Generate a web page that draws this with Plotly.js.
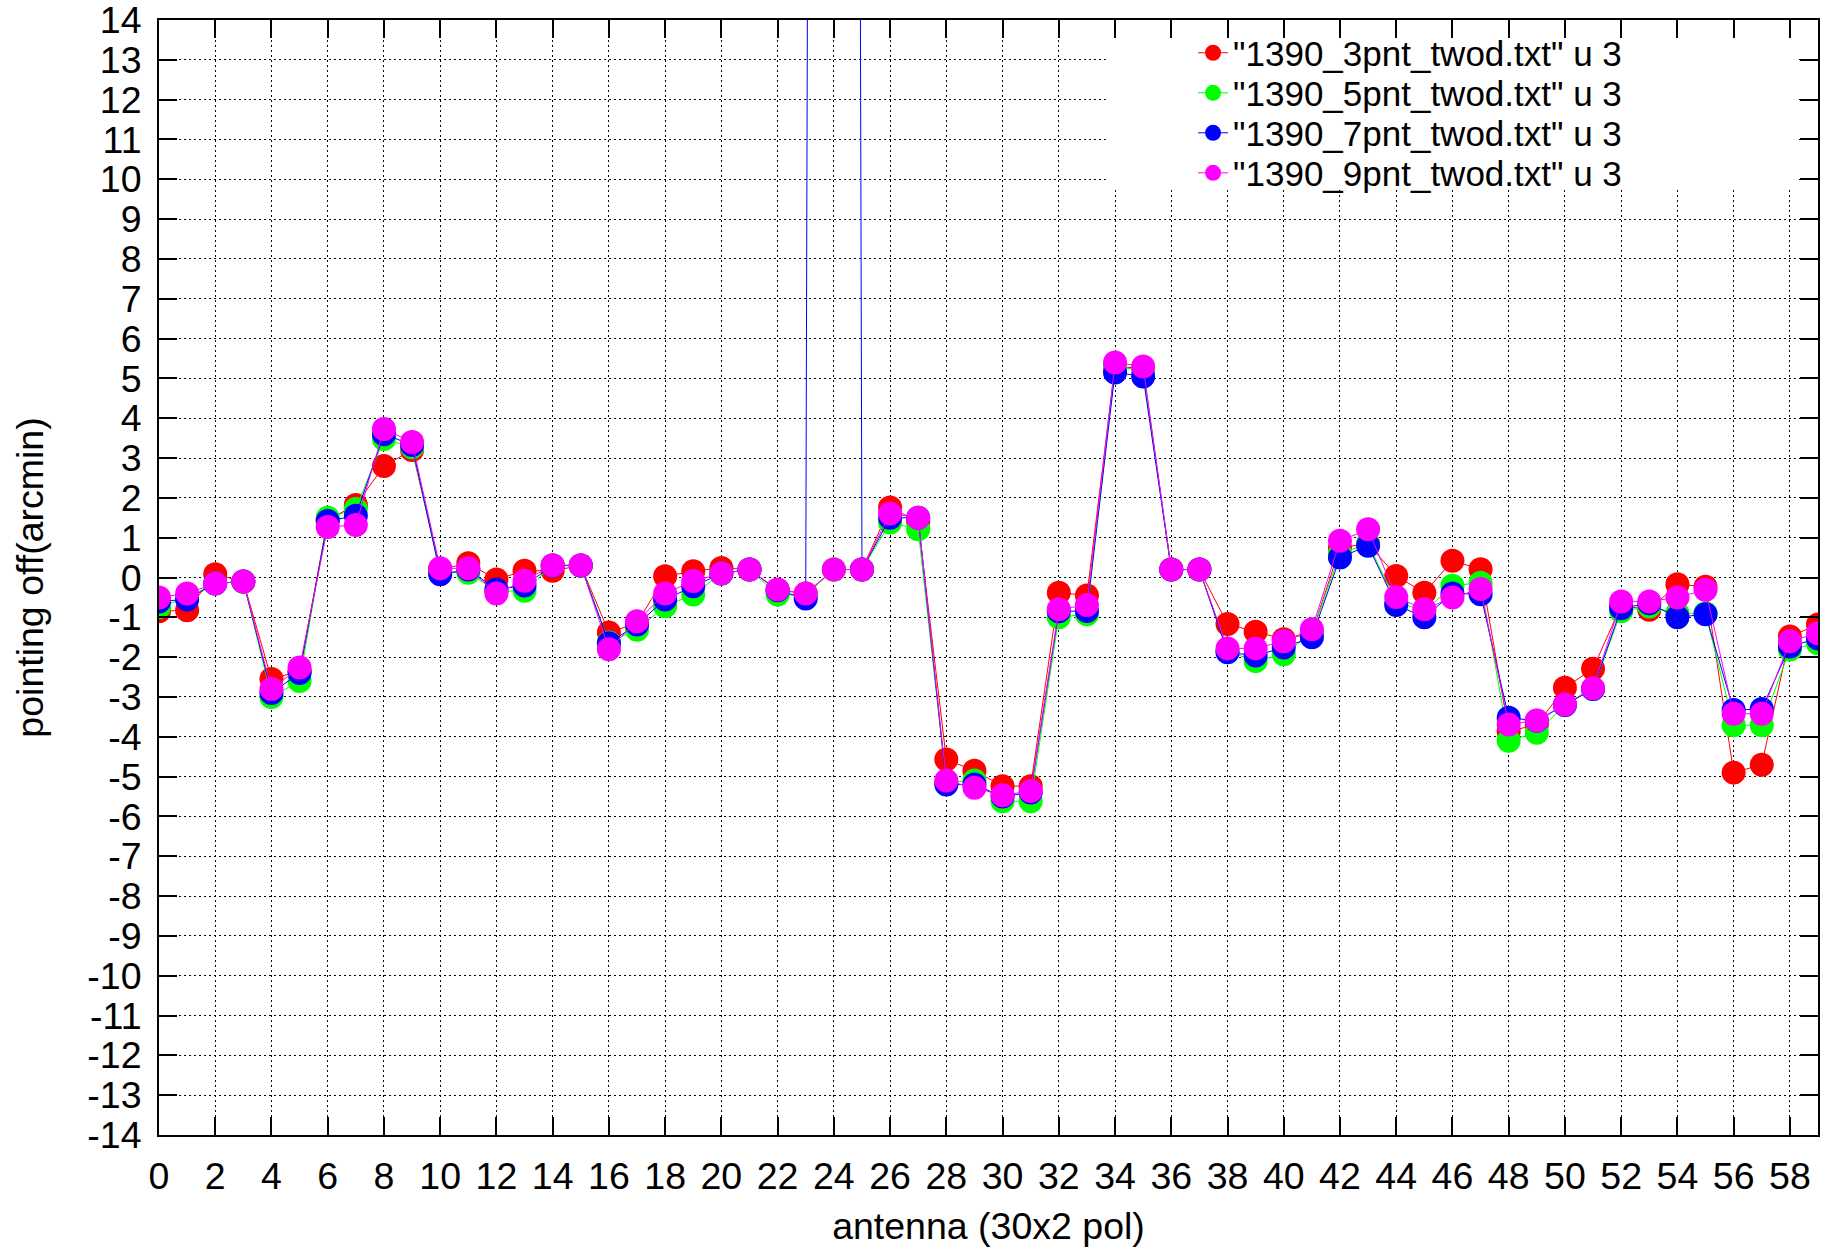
<!DOCTYPE html>
<html>
<head>
<meta charset="utf-8">
<script src="https://cdn.plot.ly/plotly-3.0.1.min.js"></script>
<style>
  html, body { margin: 0; padding: 0; background: #ffffff; }
  #chart { width: 1844px; height: 1247px; }
</style>
</head>
<body>
<div id="chart"></div>
<script>
// antenna index (30 antennas x 2 polarisations)
var antenna = [0,1,2,3,4,5,6,7,8,9,10,11,12,13,14,15,16,17,18,19,
               20,21,22,23,24,25,26,27,28,29,30,31,32,33,34,35,36,37,38,39,
               40,41,42,43,44,45,46,47,48,49,50,51,52,53,54,55,56,57,58,59];

var seriesNames = ['"1390_3pnt_twod.txt" u 3', '"1390_5pnt_twod.txt" u 3',
                   '"1390_7pnt_twod.txt" u 3', '"1390_9pnt_twod.txt" u 3'];

// y tick values (labels use a plain hyphen, as in the original)
var yTickVals = [-14,-13,-12,-11,-10,-9,-8,-7,-6,-5,-4,-3,-2,-1,0,
                 1,2,3,4,5,6,7,8,9,10,11,12,13,14];
var xTickVals = [0,2,4,6,8,10,12,14,16,18,20,22,24,26,28,
                 30,32,34,36,38,40,42,44,46,48,50,52,54,56,58];

// pointing offset (arcmin)
var pnt3 = [-0.85,-0.82,0.08,-0.1,-2.55,-2.35,1.45,1.82,2.8,3.2,
            0.2,0.36,-0.05,0.17,0.17,0.3,-1.38,-1.15,0.03,0.16,
            0.24,0.2,-0.32,-0.4,0.2,0.2,1.76,1.4,-4.57,-4.85,
            -5.24,-5.24,-0.38,-0.45,5.3,5.25,0.2,0.2,-1.17,-1.36,
            -1.55,-1.4,0.75,0.85,0.04,-0.38,0.42,0.21,-3.86,-3.7,
            -2.77,-2.29,-0.7,-0.81,-0.17,-0.23,-4.9,-4.7,-1.48,-1.18];

var pnt5 = [-0.75,-0.5,-0.15,-0.1,-3.0,-2.6,1.5,1.72,3.48,3.27,
            0.13,0.12,-0.35,-0.33,0.3,0.3,-1.63,-1.31,-0.72,-0.43,
            0.1,0.2,-0.43,-0.45,0.2,0.2,1.38,1.21,-5.15,-5.1,
            -5.62,-5.62,-1.0,-0.92,5.3,5.2,0.2,0.2,-1.85,-2.1,
            -1.93,-1.4,0.6,0.85,-0.6,-0.85,-0.21,-0.13,-4.1,-3.9,
            -3.2,-2.8,-0.85,-0.73,-0.9,-0.9,-3.71,-3.71,-1.81,-1.65];

var pnt7 = [-0.6,-0.55,-0.15,-0.1,-2.9,-2.4,1.42,1.55,3.6,3.33,
            0.08,0.2,-0.3,-0.2,0.3,0.3,-1.65,-1.18,-0.55,-0.22,
            0.1,0.2,-0.32,-0.53,250,0.2,1.5,1.5,-5.2,-5.2,
            -5.5,-5.4,-0.85,-0.84,5.15,5.05,0.2,0.2,-1.88,-1.96,
            -1.76,-1.5,0.5,0.8,-0.69,-1.0,-0.4,-0.42,-3.52,-3.6,
            -3.2,-2.8,-0.77,-0.65,-1.0,-0.92,-3.33,-3.3,-1.73,-1.53];

var pnt9 = [-0.5,-0.4,-0.15,-0.1,-2.8,-2.26,1.27,1.32,3.73,3.4,
            0.23,0.23,-0.4,-0.08,0.31,0.31,-1.8,-1.1,-0.4,-0.09,
            0.1,0.2,-0.3,-0.4,0.2,0.2,1.61,1.5,-5.1,-5.28,
            -5.47,-5.36,-0.8,-0.69,5.4,5.3,0.2,0.2,-1.78,-1.78,
            -1.6,-1.3,0.92,1.21,-0.49,-0.8,-0.5,-0.29,-3.69,-3.59,
            -3.19,-2.78,-0.6,-0.6,-0.5,-0.31,-3.42,-3.42,-1.6,-1.4];

var seriesColors = ['#ff0000', '#00ff00', '#0000ff', '#ff00ff'];
var seriesValues = [pnt3, pnt5, pnt7, pnt9];
var legendIds = ['legend', 'legend2', 'legend3', 'legend4'];

var FONT = '"Liberation Sans", Arial, Helvetica, sans-serif';
var FS = 37.5;
var LFS = 35;

var traces = seriesValues.map(function (vals, i) {
  return {
    type: 'scatter',
    mode: 'lines+markers',
    name: seriesNames[i],
    legend: legendIds[i],
    x: antenna,
    y: vals,
    line: { color: seriesColors[i], width: 1 },
    marker: { color: seriesColors[i], size: 24, symbol: 'circle', line: { width: 0 } },
    cliponaxis: true
  };
});

var axisCommon = {
  showline: true,
  linecolor: '#000000',
  linewidth: 2,
  mirror: 'allticks',
  ticks: 'inside',
  ticklen: 18,
  tickwidth: 2,
  tickcolor: '#000000',
  showgrid: true,
  gridcolor: '#000000',
  gridwidth: 1,
  griddash: '2px,3px',
  zeroline: false,
  ticklabeloverflow: 'allow',
  tickfont: { family: FONT, size: FS, color: '#000000' }
};

function legendAt(yPaper) {
  return {
    x: 0.6233,
    xanchor: 'left',
    y: yPaper,
    yanchor: 'middle',
    bgcolor: 'rgba(255,255,255,0)',
    borderwidth: 0,
    font: { family: FONT, size: LFS, color: '#000000' }
  };
}

var layout = {
  width: 1844,
  height: 1247,
  paper_bgcolor: '#ffffff',
  plot_bgcolor: '#ffffff',
  margin: { l: 159, r: 26, t: 20, b: 112, pad: 0 },
  showlegend: true,
  font: { family: FONT, size: FS, color: '#000000' },
  xaxis: Object.assign({}, axisCommon, {
    range: [0, 59],
    tickmode: 'array',
    tickvals: xTickVals,
    ticktext: xTickVals.map(String),
    ticklabelstandoff: 7,
    title: { text: 'antenna (30x2 pol)', font: { family: FONT, size: FS, color: '#000000' }, standoff: 22 }
  }),
  yaxis: Object.assign({}, axisCommon, {
    range: [-14, 14],
    tickmode: 'array',
    tickvals: yTickVals,
    ticktext: yTickVals.map(String),
    ticklabelstandoff: 8,
    title: { text: 'pointing off(arcmin)', font: { family: FONT, size: FS, color: '#000000' }, standoff: 32 }
  }),
  legend: legendAt(0.9704),
  legend2: legendAt(0.9345),
  legend3: legendAt(0.8986),
  legend4: legendAt(0.8627),
  shapes: [{
    type: 'rect',
    xref: 'paper', yref: 'paper',
    x0: 0.5714, x1: 0.9885, y0: 0.8502, y1: 0.983,
    fillcolor: '#ffffff',
    line: { width: 0 },
    layer: 'above'
  }]
};

Plotly.newPlot('chart', traces, layout, { displayModeBar: false, staticPlot: true });
</script>
</body>
</html>
